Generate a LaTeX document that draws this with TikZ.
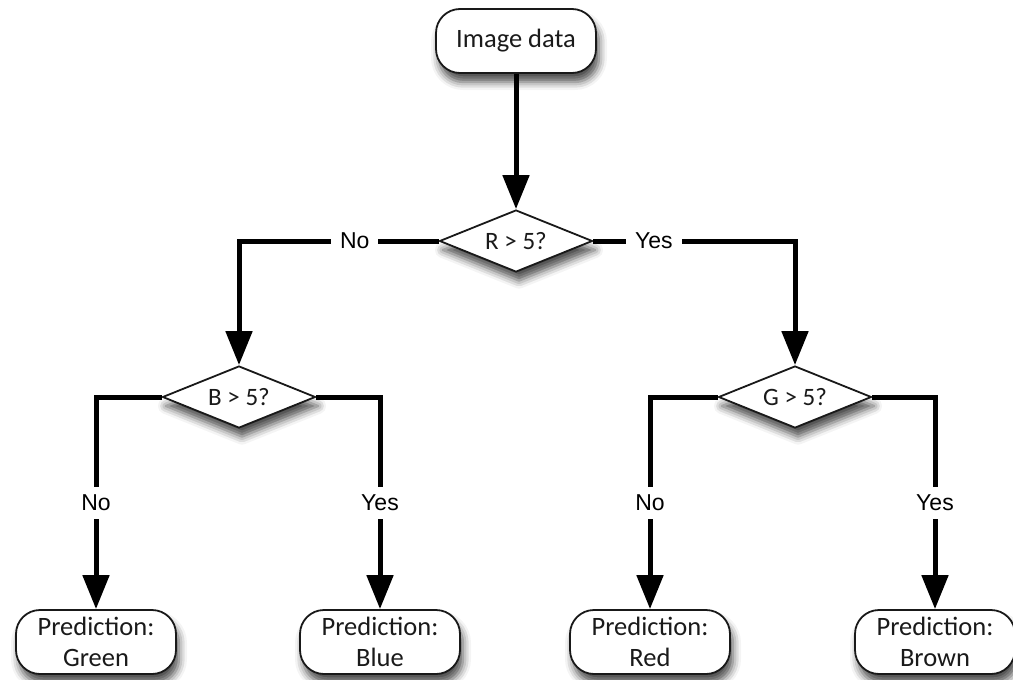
\documentclass[tikz,border=0pt]{standalone}
\usepackage{fontspec}
\setmainfont{Carlito}
\newfontfamily\labelfont{Liberation Sans}
\usetikzlibrary{arrows.meta,shapes.geometric,shadows.blur}
\definecolor{txt}{HTML}{1A1A1A}
\begin{document}
\begin{tikzpicture}[x=1pt,y=-1pt,
  shadowed/.style={blur shadow={shadow xshift=3pt,shadow yshift=-9pt,shadow blur radius=8pt,shadow opacity=70}},
  term/.style={draw=black!90,line width=1.8pt,fill=white,rounded corners=24pt,
    minimum width=160pt,minimum height=64pt,inner sep=0pt,align=center,
    text=txt,font=\fontsize{26.5}{31}\selectfont,shadowed},
  decision/.style={draw=black!90,line width=1.8pt,fill=white,diamond,aspect=2.5,
    minimum width=153pt,minimum height=62pt,inner sep=0pt,
    text=txt,font=\fontsize{25}{28}\selectfont,shadowed},
  conn/.style={line width=5pt,-{Triangle[width=26pt,length=34pt]}},
  lbl/.style={fill=white,font=\labelfont\fontsize{23}{26}\selectfont,inner xsep=9pt,inner ysep=8pt}]
\useasboundingbox (0,0) rectangle (1013,680);
\node[term] (img) at (516,41) {Image data};
\node[decision] (R) at (516,241) {R > 5?};
\node[decision] (B) at (239,397) {B > 5?};
\node[decision] (G) at (795,397) {G > 5?};
\node[term] (green) at (96,642) {Prediction:\\Green};
\node[term] (blue) at (380,642) {Prediction:\\Blue};
\node[term] (red) at (650,642) {Prediction:\\Red};
\node[term] (brown) at (935,642) {Prediction:\\Brown};
\draw[conn] (img) -- (R);
\draw[conn] (R.west) -| node[lbl,pos=0.21] {No} (B.north);
\draw[conn] (R.east) -| node[lbl,pos=0.15] {Yes} (G.north);
\draw[conn] (B.west) -| node[lbl,pos=0.75] {No} (green.north);
\draw[conn] (B.east) -| node[lbl,pos=0.75] {Yes} (blue.north);
\draw[conn] (G.west) -| node[lbl,pos=0.75] {No} (red.north);
\draw[conn] (G.east) -| node[lbl,pos=0.75] {Yes} (brown.north);
\end{tikzpicture}
\end{document}
